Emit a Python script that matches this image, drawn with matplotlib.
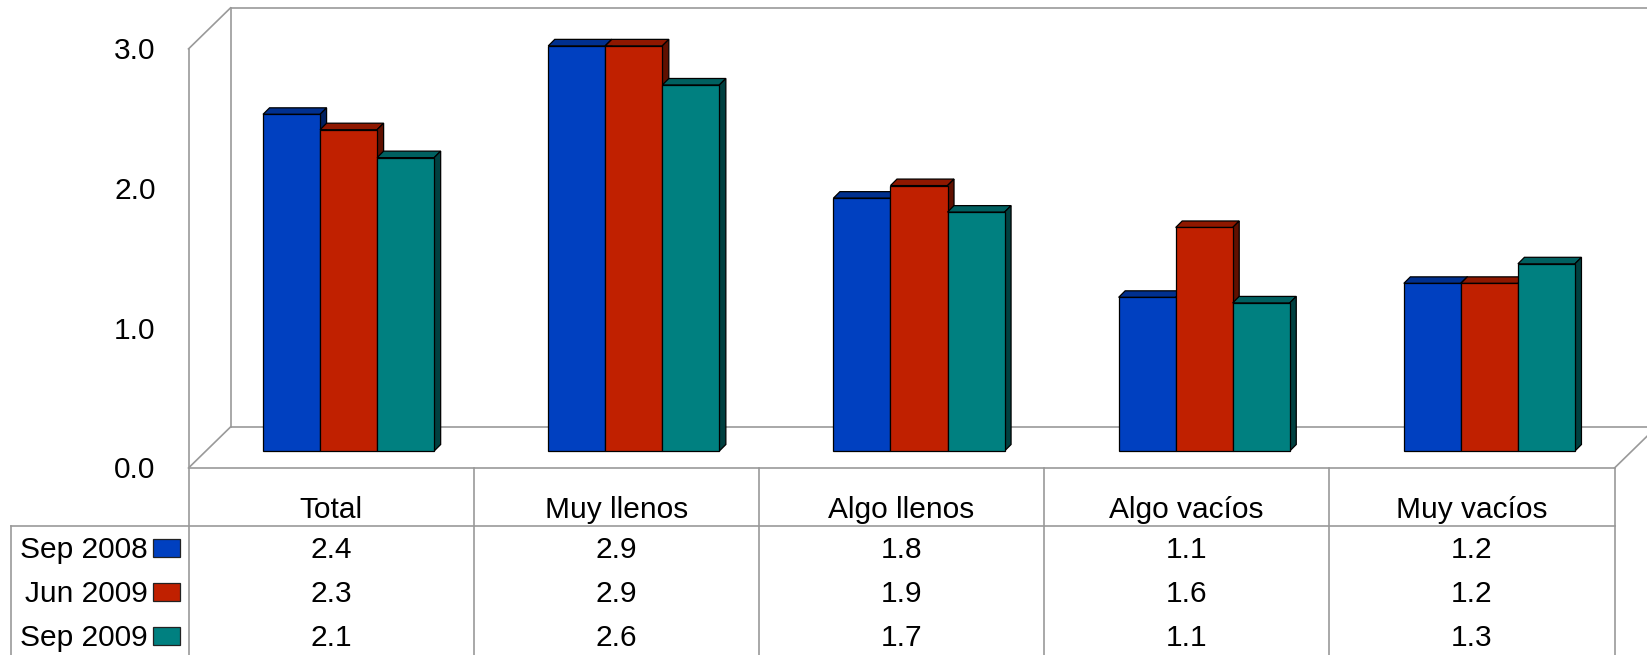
import matplotlib
matplotlib.use("Agg")
import matplotlib.pyplot as plt
from matplotlib.patches import Polygon, Rectangle
from matplotlib.lines import Line2D

plt.rcParams['font.family'] = ['Liberation Sans', 'DejaVu Sans']

categories = ["Total", "Muy llenos", "Algo llenos", "Algo vacíos", "Muy vacíos"]
series_names = ["Sep 2008", "Jun 2009", "Sep 2009"]
sep2008 = [2.41, 2.90, 1.81, 1.10, 1.20]
jun2009 = [2.30, 2.90, 1.90, 1.60, 1.20]
sep2009 = [2.10, 2.62, 1.71, 1.06, 1.34]
series = [sep2008, jun2009, sep2009]
yticks = [0.0, 1.0, 2.0, 3.0]

front_col = ["#0040C0", "#C02000", "#008080"]
top_col = ["#00308F", "#8F1800", "#006060"]
side_col = ["#002060", "#601000", "#004040"]

W, H = 1647, 655
fig = plt.figure(figsize=(W / 100, H / 100), dpi=100)
# front plane: x 188..1614 px, y 0 at 468 px, 3 at 48.9 px (from top)
x0p, x1p = 188.5, 1614.5
y0p, y3p = 468.0, 48.9
ax = fig.add_axes([x0p / W, 1 - y0p / H, (x1p - x0p) / W, (y0p - y3p) / H])
ax.set_xlim(-0.5, len(categories) - 0.5)
ax.set_ylim(0, 3)
ax.axis("off")

pxx = (x1p - x0p) / len(categories)   # px per category unit
pxy = (y0p - y3p) / 3.0               # px per value unit


def off(px_dx, px_dy):
    return px_dx / pxx, px_dy / pxy


grey = "#999999"
# wall / floor lines
bdx, bdy = off(42, 41)
xl, xr = -0.5, len(categories) - 0.5
wall_lines = [
    ([xl, xl], [0, 3]),
    ([xl, xl + bdx], [3, 3 + bdy]),
    ([xl + bdx, xl + bdx], [bdy, 3 + bdy]),
    ([xl + bdx, xr + bdx + 1], [3 + bdy, 3 + bdy]),
    ([xl + bdx, xr + bdx + 1], [bdy, bdy]),
    ([xl, xl + bdx], [0, bdy]),
    ([xr, xr + bdx], [0, bdy]),
    ([xl, xr], [0, 0]),
]
for xs, ys in wall_lines:
    ax.add_line(Line2D(xs, ys, color=grey, lw=1.2, clip_on=False, zorder=1))

# bars
bw = 0.2
ddx, ddy = off(17.5, 17)     # bar front plane offset
tdx, tdy = off(6.5, 6.5)     # bar depth
for i, vals in enumerate(series):
    for c, v in enumerate(vals):
        xa = c + (i - 1.5) * bw + ddx
        xb = xa + bw
        ya, yb = ddy, v + ddy
        z = 3 + i * 0.01
        ax.add_patch(Rectangle((xa, ya), bw, v, facecolor=front_col[i],
                               edgecolor="black", lw=0.9, zorder=z, clip_on=False))
        ax.add_patch(Polygon([(xa, yb), (xb, yb), (xb + tdx, yb + tdy), (xa + tdx, yb + tdy)],
                             closed=True, facecolor=top_col[i], edgecolor="black",
                             lw=0.9, zorder=z - 0.005, clip_on=False))
        ax.add_patch(Polygon([(xb, ya), (xb + tdx, ya + tdy), (xb + tdx, yb + tdy), (xb, yb)],
                             closed=True, facecolor=side_col[i], edgecolor="black",
                             lw=0.9, zorder=z - 0.005, clip_on=False))

fs = 21.5
# y tick labels
for t in yticks:
    ax.text(-0.5 - 33 / pxx, t - 2.5 / pxy, f"{t:.1f}", ha="right", va="center",
            fontsize=fs, clip_on=False)

# table
def fy(py):
    return 1 - py / H

tline = dict(color=grey, lw=1.2)
col_edges = [-0.5 + k for k in range(len(categories) + 1)]
hdr_bottom = 526
for k, xe in enumerate(col_edges):
    xf = (x0p + (xe + 0.5) * pxx) / W
    fig.add_artist(Line2D([xf, xf], [fy(468), fy(H + 5)], transform=fig.transFigure, **tline))
fig.add_artist(Line2D([11 / W, x1p / W], [fy(hdr_bottom), fy(hdr_bottom)],
                      transform=fig.transFigure, **tline))
fig.add_artist(Line2D([11 / W, 11 / W], [fy(hdr_bottom), fy(H + 5)],
                      transform=fig.transFigure, **tline))

for c, name in enumerate(categories):
    xf = (x0p + (c + 0.5) * pxx) / W
    fig.text(xf, fy(510.5), name, ha="center", va="center", fontsize=fs)

row_y = [550.5, 594.5, 638.5]
for i, vals in enumerate(series):
    fig.text(148 / W, fy(row_y[i]), series_names[i], ha="right", va="center", fontsize=fs)
    fig.add_artist(Rectangle((153 / W, fy(row_y[i] - 2.5 + 9)), 27 / W, 18 / H,
                             transform=fig.transFigure, facecolor=front_col[i],
                             edgecolor="#222222", lw=0.9))
    for c, v in enumerate(vals):
        xf = (x0p + (c + 0.5) * pxx) / W
        fig.text(xf, fy(row_y[i]), f"{v:.1f}", ha="center", va="center", fontsize=fs)

fig.savefig("out.png", dpi=100)
